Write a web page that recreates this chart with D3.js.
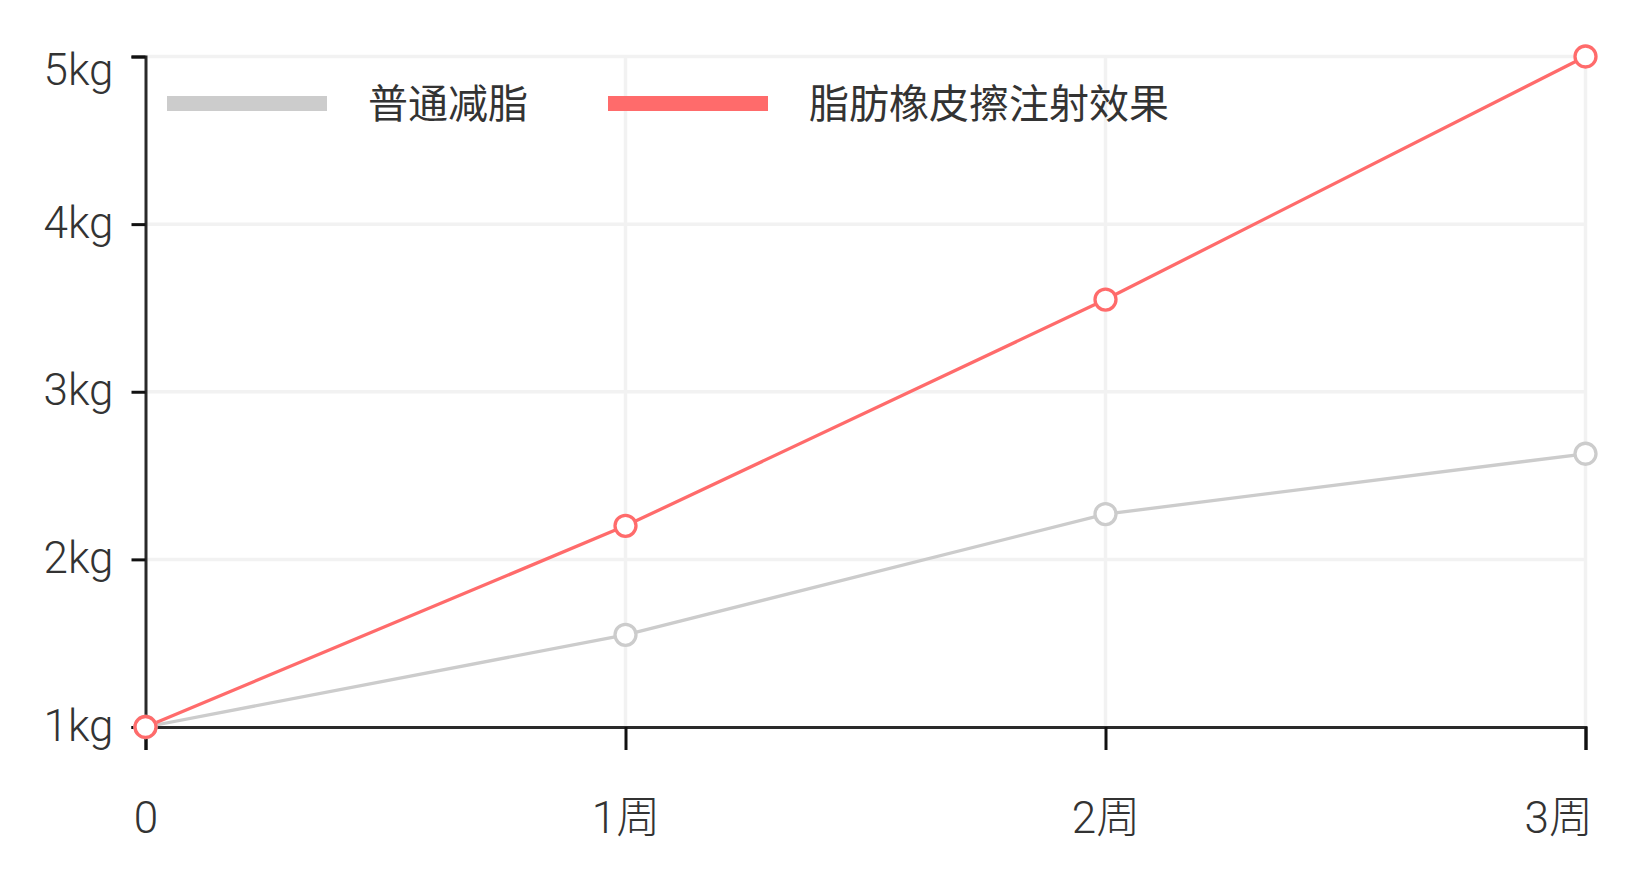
<!DOCTYPE html>
<html>
<head>
<meta charset="utf-8">
<script src="https://cdn.jsdelivr.net/npm/d3@7"></script>
<style>
  body { margin: 0; background: #fff; }
  svg text { font-family: Roboto, "Noto Sans CJK SC", sans-serif; fill: #333; }
</style>
</head>
<body>
<div id="svgDiv"></div>
<script>
//data
var weeks = [0, 1, 2, 3];
var weekLabels = ['0', '1周', '2周', '3周'];
var yTicks = [1, 2, 3, 4, 5];
var normalLoss = [1, 1.55, 2.27, 2.63];    // 普通减脂
var injectLoss = [1, 2.2, 3.55, 5.0];      // 脂肪橡皮擦注射效果
var seriesNames = ['普通减脂', '脂肪橡皮擦注射效果'];
var seriesColors = ['#cccccc', '#ff6b6b'];

//svg
var svgWidth = 1640, svgHeight = 887;
var margin = { left: 145.5, right: 54.5, top: 56.5, bottom: 160 };

var svg = d3.select('#svgDiv').append('svg')
    .attr('width', svgWidth)
    .attr('height', svgHeight);

var xScale = d3.scaleLinear()
    .domain([0, 3])
    .range([margin.left, svgWidth - margin.right]);
var yScale = d3.scaleLinear()
    .domain([1, 5])
    .range([svgHeight - margin.bottom, margin.top]);

var x0 = xScale.range()[0], x1 = xScale.range()[1];
var yBottom = yScale.range()[0], yTop = yScale.range()[1];

// gridlines
var grid = svg.append('g').attr('class', 'grid')
    .style('stroke', '#f2f2f2').style('stroke-width', 3.5);
grid.selectAll('.h').data(yTicks.slice(1)).enter().append('line')
    .attr('x1', x0).attr('x2', x1)
    .attr('y1', d => yScale(d)).attr('y2', d => yScale(d));
grid.selectAll('.v').data(weeks.slice(1)).enter().append('line')
    .attr('x1', d => xScale(d)).attr('x2', d => xScale(d))
    .attr('y1', yTop).attr('y2', yBottom);

// y axis
var yAxis = svg.append('g')
    .attr('transform', `translate(${x0},0)`)
    .call(d3.axisLeft(yScale).tickValues(yTicks).tickSize(14).tickFormat(d => d + 'kg'));
// x axis
var xAxis = svg.append('g')
    .attr('transform', `translate(0,${yBottom})`)
    .call(d3.axisBottom(xScale).tickValues(weeks).tickSize(23).tickFormat((d, i) => weekLabels[i]));

[yAxis, xAxis].forEach(function(g) {
    g.select('.domain').attr('stroke', '#2a2a2a').attr('stroke-width', 3);
    g.selectAll('.tick line').attr('stroke', '#111').attr('stroke-width', 3);
    g.selectAll('text').attr('font-size', 44).attr('font-weight', 300).attr('fill', '#333');
});
yAxis.selectAll('text').attr('x', -32).attr('dy', '0.3em');
//top label pushed inside the page
yAxis.selectAll('.tick').filter(d => d === yTicks[yTicks.length - 1])
    .select('text').attr('y', 15);
xAxis.selectAll('text').attr('y', 91).attr('dy', '0.35em');
//last label pushed inside the page
xAxis.selectAll('.tick').filter((d, i) => i === weeks.length - 1)
    .select('text').attr('text-anchor', 'end').attr('x', 7);

// lines and points
var allSeries = [normalLoss, injectLoss];
var line = d3.line()
    .x((d, i) => xScale(weeks[i]))
    .y(d => yScale(d));

allSeries.forEach(function(values, s) {
    svg.append('path')
        .datum(values)
        .attr('d', line)
        .attr('fill', 'none')
        .attr('stroke', seriesColors[s])
        .attr('stroke-width', 3.3);
});
allSeries.forEach(function(values, s) {
    svg.append('g').selectAll('circle')
        .data(values).enter().append('circle')
        .attr('cx', (d, i) => xScale(weeks[i]))
        .attr('cy', d => yScale(d))
        .attr('r', 10.5)
        .attr('fill', '#fff')
        .attr('stroke', seriesColors[s])
        .attr('stroke-width', 3.3);
});

// legend
var legendX = [167, 608];
var legend = svg.append('g').attr('class', 'legend');
seriesNames.forEach(function(name, s) {
    legend.append('rect')
        .attr('x', legendX[s]).attr('y', 96)
        .attr('width', 160).attr('height', 15)
        .attr('fill', seriesColors[s]);
    legend.append('text')
        .attr('x', legendX[s] + 201).attr('y', 104)
        .attr('dy', '0.35em')
        .attr('font-size', 40)
        .text(name);
});
</script>
</body>
</html>
